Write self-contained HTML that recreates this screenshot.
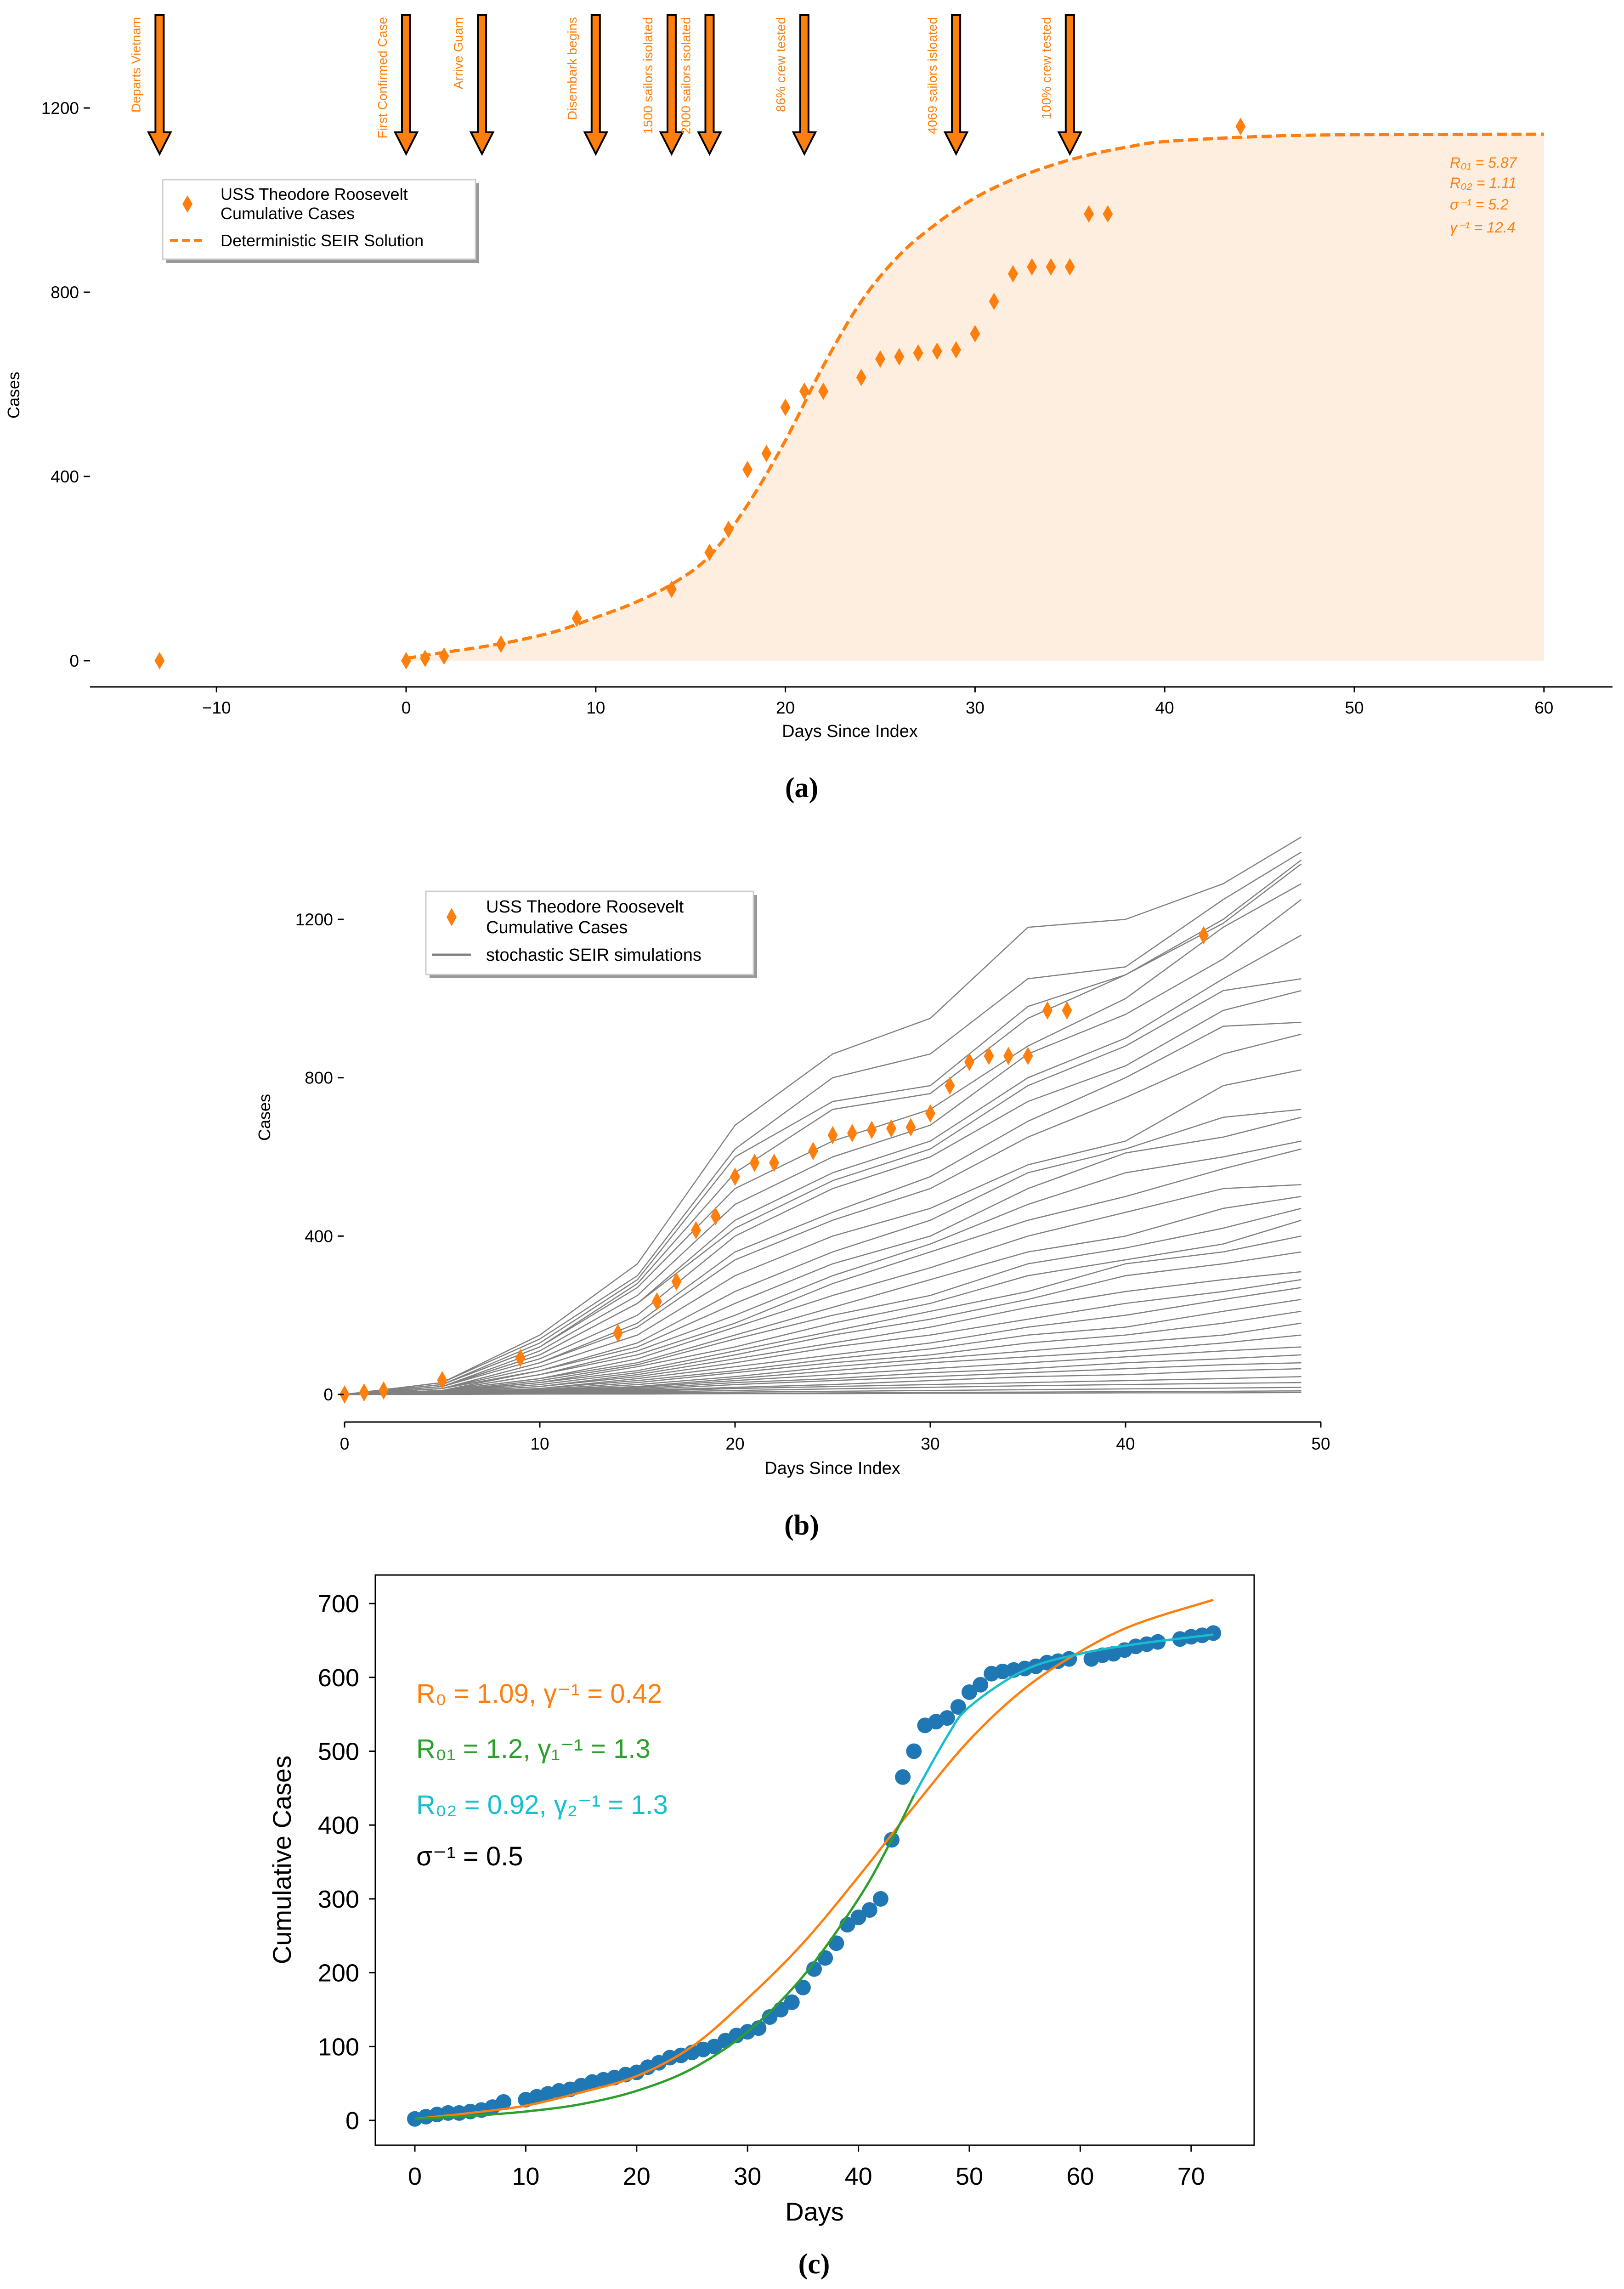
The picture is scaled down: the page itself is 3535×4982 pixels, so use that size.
<!DOCTYPE html>
<html><head><meta charset="utf-8">
<style>
html,body{margin:0;padding:0;background:#fff;}
svg{display:block;font-family:"Liberation Sans",sans-serif;}
</style></head>
<body>
<svg id="root" width="3535" height="4982" viewBox="0 0 3535 4982" xmlns="http://www.w3.org/2000/svg">
<g id="ga"></g>
<g id="gb"></g>
<g id="gc"></g>
<text x="1745" y="1735" font-family="Liberation Serif,serif" font-size="62" font-weight="bold" text-anchor="middle">(a)</text>
<text x="1745" y="3340" font-family="Liberation Serif,serif" font-size="62" font-weight="bold" text-anchor="middle">(b)</text>
<text x="1772" y="4948" font-family="Liberation Serif,serif" font-size="62" font-weight="bold" text-anchor="middle">(c)</text>
</svg>
<script>
// ---------- data ----------
const obsDays = [-13,0,1,2,5,9,14,16,17,18,19,20,21,22,24,25,26,27,28,29,30,31,32,33,34,35,36,37,44];
const obsCases = [0,0,5,10,36,92,155,235,285,415,450,550,585,585,615,655,660,668,672,675,710,780,840,855,855,855,970,970,1160];
const seirDays = [0,2,4,6,8,10,12,14,16,18,20,22,24,26,28,30,32,34,36,38,40,45,50,60];
const seirCases = [5,18,30,45,65,94,125,166,227,338,478,640,780,880,950,1005,1045,1075,1098,1115,1127,1138,1142,1143];
const eventDays = [-13,0,4,10,14,16,21,29,35];
const eventLabels = ["Departs Vietnam","First Confirmed Case","Arrive Guam","Disembark begins","1500 sailors isolated","2000 sailors isolated","86% crew tested","4069 sailors isloated","100% crew tested"];
const aXTicks = [-10,0,10,20,30,40,50,60];
const aYTicks = [0,400,800,1200];
const simDays = [0,5,10,15,20,25,30,35,40,45,49];
const simRuns = [
[0,30,150,330,680,860,950,1180,1200,1290,1408],
[0,30,140,300,620,800,860,1050,1080,1250,1370],
[0,25,130,290,600,740,780,980,1060,1200,1350],
[0,25,120,280,560,720,760,950,1060,1190,1340],
[0,25,120,270,520,640,720,880,1000,1180,1290],
[0,20,110,250,480,600,680,860,960,1100,1250],
[0,20,100,230,440,560,640,800,900,1050,1160],
[0,20,100,230,420,540,620,780,880,1020,1050],
[0,20,90,200,400,520,600,740,830,970,1020],
[0,15,80,180,360,460,550,690,800,930,940],
[0,15,80,170,340,440,520,650,750,860,910],
[0,15,70,150,300,400,470,580,640,780,820],
[0,15,60,130,260,360,440,560,620,700,720],
[0,10,60,120,230,330,400,520,610,650,700],
[0,10,50,110,200,300,380,480,560,600,640],
[0,10,50,100,180,280,360,440,500,570,620],
[0,10,40,90,170,250,320,400,460,520,530],
[0,10,40,80,150,220,290,360,400,470,500],
[0,8,35,75,140,200,250,330,370,420,470],
[0,8,30,70,120,180,230,300,340,380,440],
[0,6,30,60,110,160,210,260,330,360,400],
[0,6,25,55,100,150,190,240,300,330,360],
[0,5,20,50,90,130,170,220,260,290,310],
[0,5,20,45,80,120,150,190,230,260,290],
[0,5,15,40,70,100,130,170,200,240,270],
[0,4,15,35,60,90,115,150,170,210,240],
[0,4,12,30,55,80,100,130,150,180,210],
[0,3,10,25,45,70,90,110,130,150,180],
[0,3,10,20,40,60,80,95,110,130,150],
[0,3,8,18,35,50,65,80,95,110,120],
[0,2,6,15,30,40,55,65,80,90,100],
[0,2,5,12,25,35,45,55,65,75,80],
[0,2,5,10,18,25,35,45,50,60,65],
[0,1,4,8,15,20,25,30,35,40,45],
[0,1,3,6,10,14,18,22,25,28,30],
[0,1,2,4,6,8,10,12,14,16,18],
[0,1,1,2,3,4,5,6,7,8,9],
[0,0,1,1,2,2,3,3,4,4,5]
];
const bXTicks = [0,10,20,30,40,50];
const bYTicks = [0,400,800,1200];
const cDays = [0,1,2,3,4,5,6,7,8,10,11,12,13,14,15,16,17,18,19,20,21,22,23,24,25,26,27,28,29,30,31,32,33,34,35,36,37,38,39,40,41,42,43,44,45,46,47,48,49,50,51,52,53,54,55,56,57,58,59,61,62,63,64,65,66,67,69,70,71,72];
const cCases = [2,5,8,10,10,12,14,18,25,28,32,36,40,42,47,52,55,58,62,65,72,78,85,88,92,96,100,108,115,120,125,140,150,160,180,205,220,240,265,275,285,300,380,465,500,535,540,545,560,580,590,605,608,610,612,615,620,622,625,625,630,632,637,642,645,648,652,655,657,660];
const orangeDays = [0,5,10,15,20,25,30,35,40,45,50,55,60,65,72];
const orangeVals = [2,10,20,38,60,100,165,240,330,425,515,585,635,672,705];
const greenDays = [0,5,10,15,20,25,30,35,40,43,45];
const greenVals = [2,6,12,22,40,70,120,195,300,380,440];
const cyanDays = [45,48,50,55,60,65,72];
const cyanVals = [440,520,560,610,632,645,658];
const cXTicks = [0,10,20,30,40,50,60,70];
const cYTicks = [0,100,200,300,400,500,600,700];

// ---------- helpers ----------
const NS="http://www.w3.org/2000/svg";
function mk(parent,tag,attrs,text){const e=document.createElementNS(NS,tag);for(const k in attrs)e.setAttribute(k,attrs[k]);if(text!==undefined)e.textContent=text;parent.appendChild(e);return e;}
function smooth(pts){
  let d="M"+pts[0][0]+","+pts[0][1];
  for(let i=0;i<pts.length-1;i++){const p0=pts[Math.max(i-1,0)],p1=pts[i],p2=pts[i+1],p3=pts[Math.min(i+2,pts.length-1)];
    const c1=[p1[0]+(p2[0]-p0[0])/6,p1[1]+(p2[1]-p0[1])/6],c2=[p2[0]-(p3[0]-p1[0])/6,p2[1]-(p3[1]-p1[1])/6];
    d+=" C"+c1[0]+","+c1[1]+" "+c2[0]+","+c2[1]+" "+p2[0]+","+p2[1];}
  return d;}
function poly(pts){return "M"+pts.map(p=>p[0]+","+p[1]).join(" L");}
function diamond(g,x,y,w,h,name){const p=mk(g,"path",{d:`M${x},${y-h} L${x+w},${y} L${x},${y+h} L${x-w},${y} Z`,fill:"#ff7f0e"});
  
  
  return p;}
const OR="#ff7f0e";

// ---------- chart a ----------
(function(){
const g=document.getElementById("ga");
const ax=d=>884+d*41.28, ay=v=>1438-v*(1438-235)/1200;
let pts=seirDays.map((d,i)=>[ax(d),ay(seirCases[i])]);
const fillD=smooth(pts)+` L${ax(60)},${ay(0)} L${ax(0)},${ay(0)} Z`;
const f=mk(g,"path",{d:fillD,fill:"#fdeee0"});


const l=mk(g,"path",{d:smooth(pts),fill:"none",stroke:OR,"stroke-width":7,"stroke-dasharray":"22,10"});


obsDays.forEach((d,i)=>{diamond(g,ax(d),ay(obsCases[i]),11,19,'observed-point');});
const axl=mk(g,"line",{x1:196,x2:3510,y1:1495,y2:1495,stroke:"#000","stroke-width":3});


aXTicks.forEach(t=>{
  const tk=mk(g,"line",{x1:ax(t),x2:ax(t),y1:1495,y2:1507,stroke:"#000","stroke-width":3});
  
  
  const tl=mk(g,"text",{x:ax(t),y:1553,"font-size":37,"text-anchor":"middle"},(t<0?"\u2212":"")+Math.abs(t));
  
  
});
aYTicks.forEach(t=>{
  const tk=mk(g,"line",{x1:182,x2:196,y1:ay(t),y2:ay(t),stroke:"#000","stroke-width":3});
  
  
  const tl=mk(g,"text",{x:172,y:ay(t)+13,"font-size":37,"text-anchor":"end"},t);
  
  
});
const xt=mk(g,"text",{x:1850,y:1604,"font-size":38,"text-anchor":"middle"},"Days Since Index");


const yt=mk(g,"text",{x:0,y:0,"font-size":36,"text-anchor":"middle",transform:"translate(42,860) rotate(-90)"},"Cases");


eventDays.forEach((d,i)=>{
  const x=ax(d);
  const ar=mk(g,"path",{d:`M${x-9},33 L${x+9},33 L${x+9},288 L${x+24},288 L${x},335 L${x-24},288 L${x-9},288 Z`,fill:OR,stroke:"#000","stroke-width":4,"stroke-linejoin":"miter"});
  
  
  const tx=mk(g,"text",{x:0,y:0,"font-size":28,fill:OR,"text-anchor":"end",transform:`translate(${x-42},37) rotate(-90)`},eventLabels[i]);
  
  
});
const pa=["R\u2080\u2081 = 5.87","R\u2080\u2082 = 1.11","\u03c3\u207b\u00b9 = 5.2","\u03b3\u207b\u00b9 = 12.4"];
[365,409,456,506].forEach((y,i)=>{const t=mk(g,"text",{x:3156,y:y,"font-size":32,fill:OR,"font-style":"italic"},pa[i]);
  
  });
})();
</script>
<script>
// ---------- chart b ----------
(function(){
const g=document.getElementById("gb");
const bx=d=>750+d*42.5, by=v=>3035-v*(3035-2001)/1200;
simRuns.forEach(run=>{
  const p=mk(g,"path",{d:poly(simDays.map((d,i)=>[bx(d),by(run[i])])),fill:"none",stroke:"#808080","stroke-width":2.5,"stroke-linejoin":"round"});
  
  
});
obsDays.forEach((d,i)=>{if(d>=0)diamond(g,bx(d),by(obsCases[i]),11,20,'observed-point');});
const axl=mk(g,"line",{x1:750,x2:2875,y1:3095,y2:3095,stroke:"#000","stroke-width":3});


bXTicks.forEach(t=>{
  const tk=mk(g,"line",{x1:bx(t),x2:bx(t),y1:3095,y2:3107,stroke:"#000","stroke-width":3});
  
  
  const tl=mk(g,"text",{x:bx(t),y:3155,"font-size":37,"text-anchor":"middle"},t);
  
  
});
bYTicks.forEach(t=>{
  const tk=mk(g,"line",{x1:735,x2:748,y1:by(t),y2:by(t),stroke:"#000","stroke-width":3});
  
  
  const tl=mk(g,"text",{x:725,y:by(t)+13,"font-size":37,"text-anchor":"end"},t);
  
  
});
const xt=mk(g,"text",{x:1812,y:3208,"font-size":38,"text-anchor":"middle"},"Days Since Index");


const yt=mk(g,"text",{x:0,y:0,"font-size":36,"text-anchor":"middle",transform:"translate(588,2432) rotate(-90)"},"Cases");


})();
// ---------- chart c ----------
(function(){
const g=document.getElementById("gc");
const cx=d=>903+d*24.14, cy=v=>4615-v*1.607;
const box=mk(g,"rect",{x:817,y:3428,width:1913,height:1241,fill:"none",stroke:"#000","stroke-width":3});


cDays.forEach((d,i)=>{
  const c=mk(g,"circle",{cx:cx(d),cy:cy(cCases[i]),r:17,fill:"#1f77b4"});
  
  
});
const o=mk(g,"path",{d:smooth(orangeDays.map((d,i)=>[cx(d),cy(orangeVals[i])])),fill:"none",stroke:OR,"stroke-width":5});


const gr=mk(g,"path",{d:smooth(greenDays.map((d,i)=>[cx(d),cy(greenVals[i])])),fill:"none",stroke:"#2ca02c","stroke-width":5});


const cy1=mk(g,"path",{d:smooth(cyanDays.map((d,i)=>[cx(d),cy(cyanVals[i])])),fill:"none",stroke:"#17becf","stroke-width":5});


cXTicks.forEach(t=>{
  const tk=mk(g,"line",{x1:cx(t),x2:cx(t),y1:4669,y2:4683,stroke:"#000","stroke-width":3});
  
  
  const tl=mk(g,"text",{x:cx(t),y:4755,"font-size":54,"text-anchor":"middle"},t);
  
  
});
cYTicks.forEach(t=>{
  const tk=mk(g,"line",{x1:803,x2:817,y1:cy(t),y2:cy(t),stroke:"#000","stroke-width":3});
  
  
  const tl=mk(g,"text",{x:782,y:cy(t)+19,"font-size":54,"text-anchor":"end"},t);
  
  
});
const xt=mk(g,"text",{x:1773,y:4833,"font-size":56,"text-anchor":"middle"},"Days");


const yt=mk(g,"text",{x:0,y:0,"font-size":56,"text-anchor":"middle",transform:"translate(633,4048) rotate(-90)"},"Cumulative Cases");


const ann=[["R\u2080 = 1.09,   \u03b3\u207b\u00b9 = 0.42",OR,3706],["R\u2080\u2081 = 1.2,   \u03b3\u2081\u207b\u00b9 = 1.3","#2ca02c",3826],["R\u2080\u2082 = 0.92,   \u03b3\u2082\u207b\u00b9 = 1.3","#17becf",3948],["\u03c3\u207b\u00b9 = 0.5","#000",4060]];
ann.forEach(a=>{const t=mk(g,"text",{x:906,y:a[2],"font-size":58,fill:a[1],"xml:space":"preserve"},a[0]);
  
  });
})();
</script>
<svg style="position:absolute;left:0;top:0" width="3535" height="4982">
<g font-family="Liberation Sans,sans-serif">
<rect x="362" y="399" width="681" height="173" fill="#999"/>
<rect x="354" y="391" width="681" height="173" fill="#fff" stroke="#ccc" stroke-width="3"/>
<path d="M408,425 L419,444 L408,463 L397,444 Z" fill="#ff7f0e"/>
<text x="480" y="435" font-size="36">USS Theodore Roosevelt</text>
<text x="480" y="477" font-size="36">Cumulative Cases</text>
<line x1="370" x2="448" y1="523" y2="523" stroke="#ff7f0e" stroke-width="6" stroke-dasharray="18,8"/>
<text x="480" y="536" font-size="36">Deterministic SEIR Solution</text>
</g>
<g font-family="Liberation Sans,sans-serif">
<rect x="935" y="1948" width="713" height="181" fill="#999"/>
<rect x="927" y="1940" width="713" height="181" fill="#fff" stroke="#ccc" stroke-width="3"/>
<path d="M983,1976 L994,1996 L983,2016 L972,1996 Z" fill="#ff7f0e"/>
<text x="1058" y="1986" font-size="38">USS Theodore Roosevelt</text>
<text x="1058" y="2031" font-size="38">Cumulative Cases</text>
<line x1="940" x2="1025" y1="2078" y2="2078" stroke="#808080" stroke-width="5"/>
<text x="1058" y="2091" font-size="38">stochastic SEIR simulations</text>
</g>
</svg>
</body></html>
